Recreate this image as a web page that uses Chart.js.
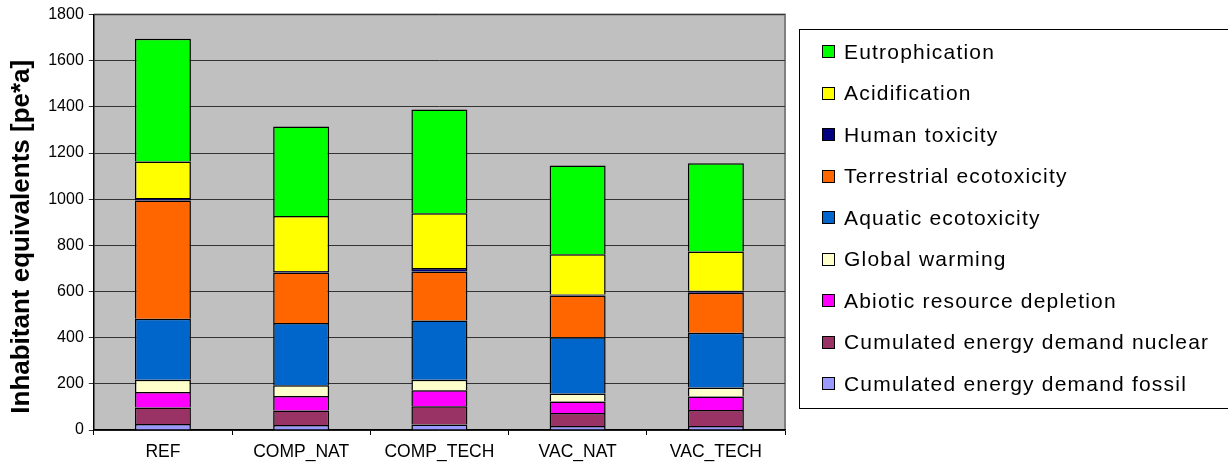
<!DOCTYPE html>
<html><head><meta charset="utf-8">
<script src="https://cdn.jsdelivr.net/npm/chart.js@4.4.0/dist/chart.umd.min.js"></script>
<style>
html,body{margin:0;padding:0;background:#fff;}
#wrap{position:relative;width:1228px;height:463px;overflow:hidden;}
#legend{position:absolute;left:799px;top:29px;width:431px;height:380px;border:1px solid #000;box-sizing:border-box;font-family:"Liberation Sans",Arial,sans-serif;font-size:21px;letter-spacing:1.2px;color:#000;padding-top:1px;}
.li{display:flex;align-items:center;height:41.5px;}
.bx{width:13px;height:13px;border:1px solid #000;margin-left:22px;margin-right:9px;box-sizing:border-box;flex:none;}
</style></head>
<body><div id="wrap"><canvas id="c" width="1228" height="463"></canvas><div id="legend"></div></div>
<script>
const categories = ["REF","COMP_NAT","COMP_TECH","VAC_NAT","VAC_TECH"];
const seriesNames = ["Cumulated energy demand fossil","Cumulated energy demand nuclear","Abiotic resource depletion","Global warming","Aquatic ecotoxicity","Terrestrial ecotoxicity","Human toxicity","Acidification","Eutrophication"];
const cedFossil = [26,22,24,17,17];
const cedNuclear = [72,63,79,57,70];
const abiotic = [67,62,69,50,58];
const globalWarming = [53,47,46,34,39];
const aquatic = [264,270,256,244,237];
const terrestrial = [512,219,213,181,174];
const humanTox = [11,6,15,4,8];
const acidification = [158,238,237,175,171];
const eutrophication = [532,388,450,384,382];
const yTicks = [0,200,400,600,800,1000,1200,1400,1600,1800];
const colors = ["#9999FF","#993366","#FF00FF","#FFFFCC","#0066CC","#FF6600","#000080","#FFFF00","#00FF00"];
const seriesData = [cedFossil,cedNuclear,abiotic,globalWarming,aquatic,terrestrial,humanTox,acidification,eutrophication];

const bgPlugin = {id:'bg',beforeDraw(chart){const a=chart.chartArea,ctx=chart.ctx;ctx.save();ctx.fillStyle="#C0C0C0";ctx.fillRect(a.left,a.top,a.right-a.left,a.bottom-a.top);ctx.strokeStyle="#808080";ctx.lineWidth=2;ctx.beginPath();ctx.moveTo(a.left,a.top);ctx.lineTo(a.right,a.top);ctx.lineTo(a.right,a.bottom);ctx.stroke();ctx.restore();}};

const chart = new Chart(document.getElementById('c'),{
  type:'bar',
  data:{labels:categories,datasets:seriesNames.map((n,i)=>({label:n,data:seriesData[i],backgroundColor:colors[i],borderColor:"#000",borderWidth:1.5,barPercentage:0.405,categoryPercentage:1}))},
  options:{responsive:false,animation:false,
    layout:{padding:{left:6,right:443,top:11,bottom:-7}},
    plugins:{legend:{display:false},tooltip:{enabled:false}},
    scales:{
      x:{stacked:true,grid:{display:true,drawOnChartArea:false,drawTicks:true,tickLength:5,color:"#000",offset:true},border:{color:"#000",width:1.5},
         ticks:{color:"#000",font:{family:"Liberation Sans",size:17.5},padding:7}},
      y:{stacked:true,min:0,max:1800,afterBuildTicks(ax){ax.ticks=yTicks.map(v=>({value:v}));},
         grid:{color:"#333",lineWidth:1,tickLength:5,drawTicks:true},border:{color:"#000",width:1.5},
         ticks:{color:"#000",font:{family:"Liberation Sans",size:16},padding:5,callback:(v)=>String(v)},
         title:{display:true,text:"Inhabitant equivalents [pe*a]    ",color:"#000",font:{family:"Liberation Sans",size:26,weight:"bold"},padding:{top:0,bottom:6}}}
    }},
  plugins:[bgPlugin]
});
const lg=document.getElementById('legend');
for(let i=seriesNames.length-1;i>=0;i--){const d=document.createElement('div');d.className='li';const b=document.createElement('div');b.className='bx';b.style.background=colors[i];d.appendChild(b);const t=document.createElement('span');t.textContent=seriesNames[i];d.appendChild(t);lg.appendChild(d);}
</script></body></html>
